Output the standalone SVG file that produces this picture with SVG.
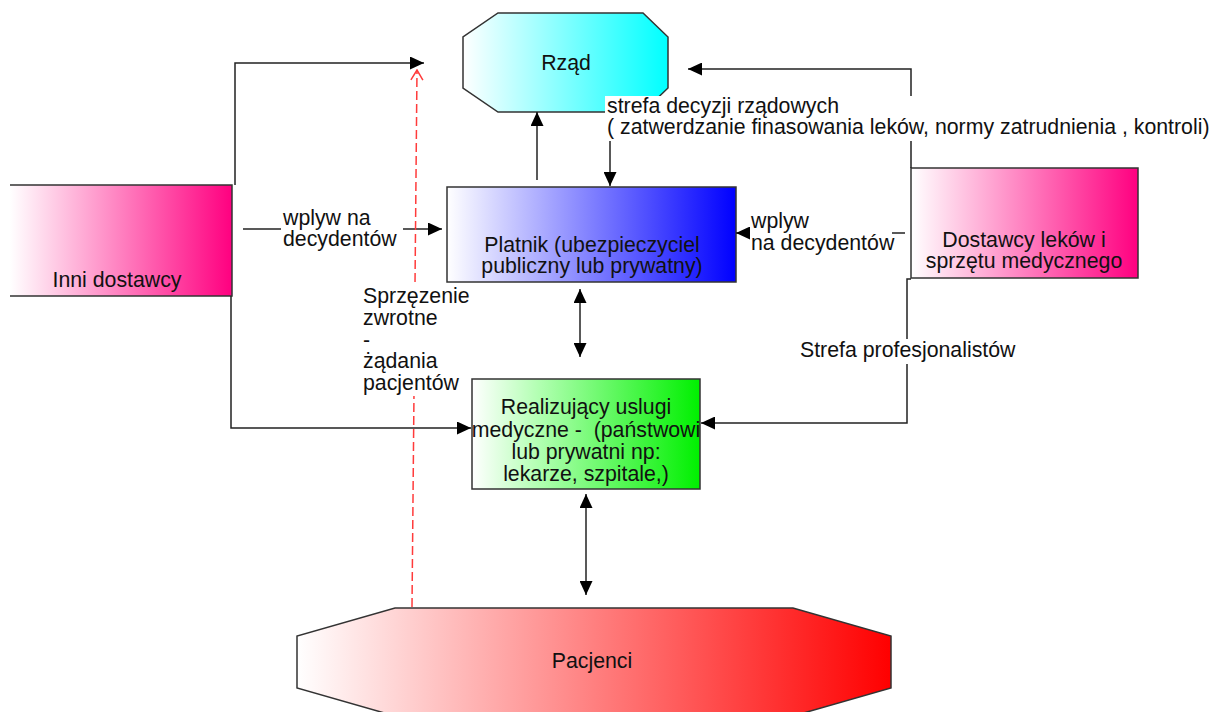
<svg xmlns="http://www.w3.org/2000/svg" width="1214" height="712" viewBox="0 0 1214 712">
  <style>
    .t { font-family: "Liberation Sans", Arial, sans-serif; font-size: 21.3px; fill: #111; }
    .c { text-anchor: middle; }
    .box { stroke: #333; stroke-width: 1.5; }
    .edge { fill: none; stroke: #222; stroke-width: 1.5; }
    .fb { fill: none; stroke: #ff3b3b; stroke-width: 1.5; stroke-dasharray: 9 4; }
    .bg { fill: #fff; }
  </style>
  <defs>
    <linearGradient id="gCyan" x1="0" y1="0" x2="1" y2="0">
      <stop offset="0" stop-color="#ffffff"/><stop offset="1" stop-color="#00ffff"/>
    </linearGradient>
    <linearGradient id="gPink" x1="0" y1="0" x2="1" y2="0">
      <stop offset="0" stop-color="#ffffff"/><stop offset="1" stop-color="#ff0080"/>
    </linearGradient>
    <linearGradient id="gBlue" x1="0" y1="0" x2="1" y2="0">
      <stop offset="0" stop-color="#ffffff"/><stop offset="1" stop-color="#0000ff"/>
    </linearGradient>
    <linearGradient id="gGreen" x1="0" y1="0" x2="1" y2="0">
      <stop offset="0" stop-color="#ffffff"/><stop offset="0.3" stop-color="#b0ffb0"/><stop offset="1" stop-color="#00f000"/>
    </linearGradient>
    <linearGradient id="gRed" x1="0" y1="0" x2="1" y2="0">
      <stop offset="0" stop-color="#ffffff"/><stop offset="1" stop-color="#ff0000"/>
    </linearGradient>
    <marker id="arr" markerUnits="userSpaceOnUse" viewBox="0 0 14 13" refX="14" refY="6.5" markerWidth="14" markerHeight="13" orient="auto-start-reverse">
      <path d="M0,0 L14,6.5 L0,13 z" fill="#000"/>
    </marker>
    <marker id="open" markerUnits="userSpaceOnUse" viewBox="0 0 12 14" refX="11" refY="7" markerWidth="12" markerHeight="14" orient="auto">
      <path d="M1,1 L11,7 L1,13" fill="none" stroke="#ff3b3b" stroke-width="1.5"/>
    </marker>
  </defs>

  <!-- nodes -->
  <g id="rzad">
    <polygon class="box" fill="url(#gCyan)" points="498,13 643,13 668,37 668,88 643,112 498,112 463,88 463,37"/>
    <text class="t c" x="566" y="70">Rząd</text>
  </g>
  <g id="inni-dostawcy">
    <rect x="10" y="185" width="222" height="111" fill="url(#gPink)"/>
    <path class="box" fill="none" d="M10,185 H232 V296 H10"/>
    <text class="t c" x="117" y="287">Inni dostawcy</text>
  </g>
  <g id="platnik">
    <rect class="box" x="447" y="187" width="289" height="95" fill="url(#gBlue)"/>
    <text class="t c" x="592" y="252">Platnik (ubezpieczyciel</text>
    <text class="t c" x="592" y="273">publiczny lub prywatny)</text>
  </g>
  <g id="dostawcy-lekow">
    <rect class="box" x="911" y="168" width="227" height="110" fill="url(#gPink)"/>
    <text class="t c" x="1024" y="247">Dostawcy leków i</text>
    <text class="t c" x="1024" y="268">sprzętu medycznego</text>
  </g>
  <g id="realizujacy">
    <rect class="box" x="472" y="379" width="228" height="110" fill="url(#gGreen)"/>
    <text class="t c" x="586" y="414">Realizujący uslugi</text>
    <text class="t c" x="586" y="437" style="white-space:pre">medyczne -  (państwowi</text>
    <text class="t c" x="586" y="459">lub prywatni np:</text>
    <text class="t c" x="586" y="481">lekarze, szpitale,)</text>
  </g>
  <g id="pacjenci">
    <polygon class="box" fill="url(#gRed)" points="395,608 793,608 891,636 891,688 793,716 395,716 297,688 297,636"/>
    <text class="t c" x="592" y="668">Pacjenci</text>
  </g>

  <!-- connectors -->
  <g id="connectors">
    <path class="edge" d="M235,185 V63 H424" marker-end="url(#arr)"/>
    <path class="edge" d="M243,229 H442" marker-end="url(#arr)"/>
    <path class="edge" d="M231,296 V428 H471" marker-end="url(#arr)"/>
    <path class="edge" d="M537,180 V112" marker-end="url(#arr)"/>
    <path class="edge" d="M610,141 V186" marker-end="url(#arr)"/>
    <path class="edge" d="M911,168 V69 H688" marker-end="url(#arr)"/>
    <path class="edge" d="M905,233 H736" marker-end="url(#arr)"/>
    <path class="edge" d="M911,279 H907 V423 H701" marker-end="url(#arr)"/>
    <path class="edge" d="M580,289 V357" marker-start="url(#arr)" marker-end="url(#arr)"/>
    <path class="edge" d="M586,494 V595" marker-start="url(#arr)" marker-end="url(#arr)"/>
    <path class="fb" d="M412,607 L417,70" marker-end="url(#open)"/>
  </g>

  <!-- edge labels -->
  <g id="label-strefa-rzadowa">
    <rect class="bg" x="605" y="96" width="609" height="45"/>
    <text class="t" x="607" y="113">strefa decyzji rządowych</text>
    <text class="t" x="607" y="134">( zatwerdzanie finasowania leków, normy zatrudnienia , kontroli)</text>
  </g>
  <g id="label-wplyw-lewy">
    <rect class="bg" x="281" y="207" width="122" height="45"/>
    <text class="t" x="283" y="225">wplyw na</text>
    <text class="t" x="283" y="246">decydentów</text>
  </g>
  <g id="label-wplyw-prawy">
    <rect class="bg" x="750" y="211" width="142" height="44"/>
    <text class="t" x="751" y="228">wplyw</text>
    <text class="t" x="751" y="250">na decydentów</text>
  </g>
  <g id="label-sprzezenie">
    <rect class="bg" x="360" y="284" width="104" height="112"/>
    <text class="t" x="363" y="303">Sprzęzenie</text>
    <text class="t" x="363" y="325">zwrotne</text>
    <text class="t" x="363" y="347">-</text>
    <text class="t" x="363" y="368">żądania</text>
    <text class="t" x="363" y="390">pacjentów</text>
  </g>
  <g id="label-profesjonalisci">
    <rect class="bg" x="798" y="339" width="219" height="25"/>
    <text class="t" x="800" y="357">Strefa profesjonalistów</text>
  </g>
</svg>
